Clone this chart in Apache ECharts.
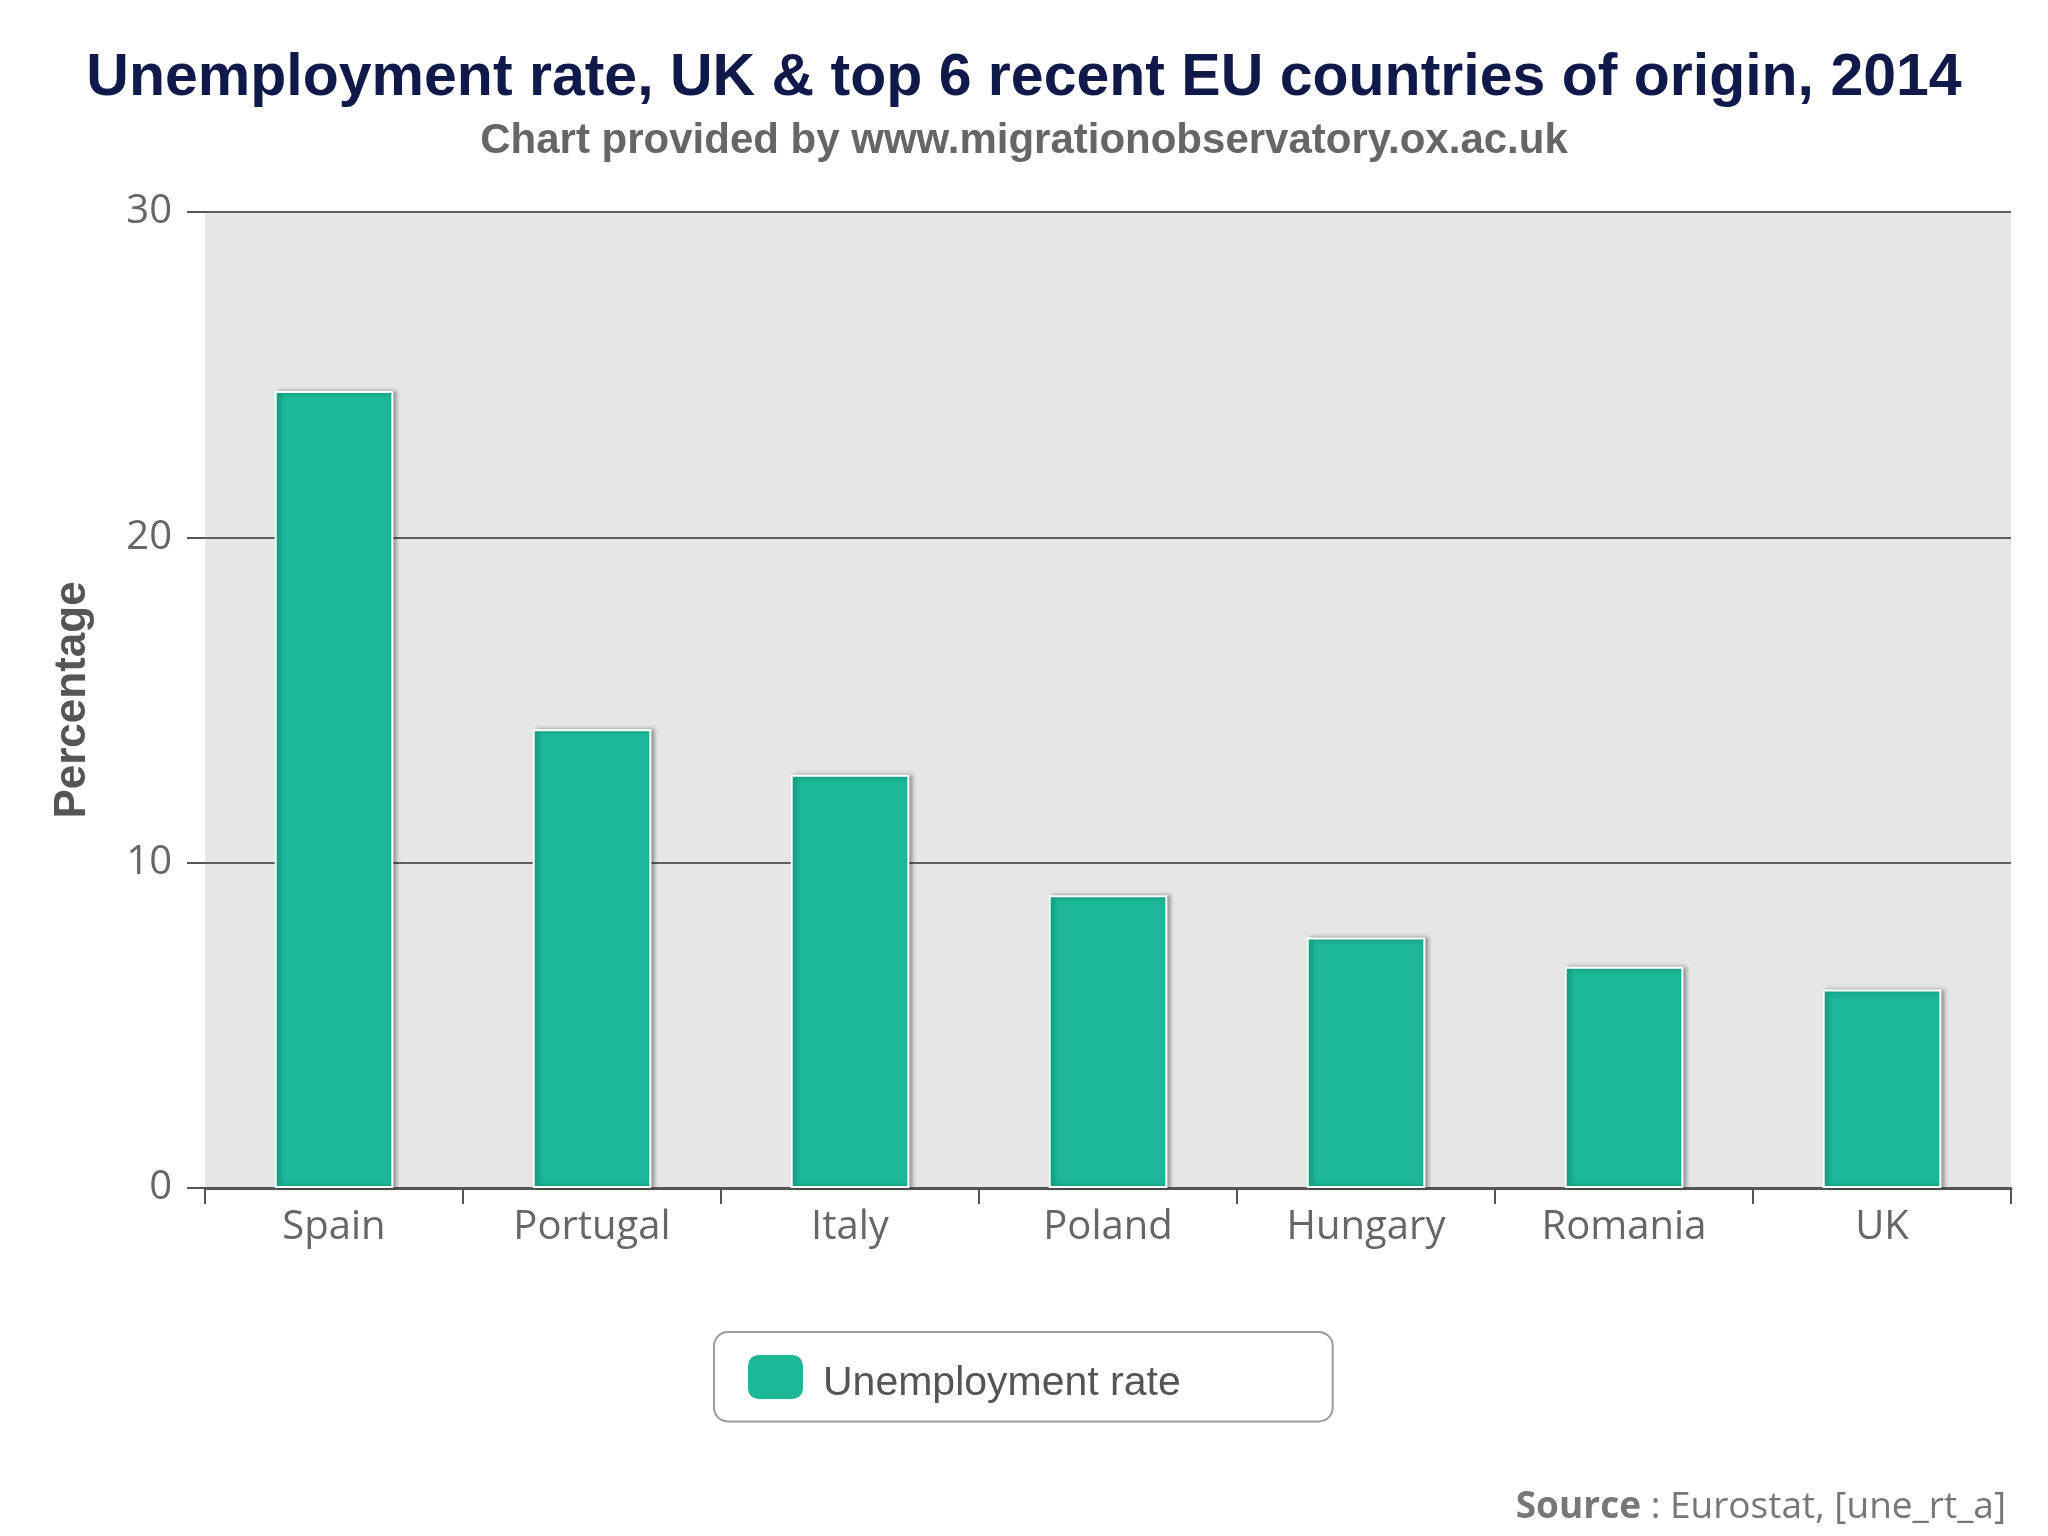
<!DOCTYPE html>
<html>
<head>
<meta charset="utf-8">
<script src="https://cdn.jsdelivr.net/npm/echarts@6/dist/echarts.min.js"></script>
<style>
html,body{margin:0;padding:0;background:#fff;}
#chart{width:2048px;height:1536px;}
</style>
</head>
<body>
<div id="chart"></div>
<script>
const categories = ['Spain', 'Portugal', 'Italy', 'Poland', 'Hungary', 'Romania', 'UK'];
const unemploymentRate = [24.5, 14.1, 12.7, 9.0, 7.7, 6.8, 6.1];
const yTicks = [0, 10, 20, 30];
const seriesName = 'Unemployment rate';
const titleText = 'Unemployment rate, UK & top 6 recent EU countries of origin, 2014';
const subtitleText = 'Chart provided by www.migrationobservatory.ox.ac.uk';
const yAxisName = 'Percentage';

const chart = echarts.init(document.getElementById('chart'), null, {renderer: 'canvas'});
const option = {
  backgroundColor: '#ffffff',
  animation: false,
  title: {
    text: titleText,
    subtext: subtitleText,
    left: 'center',
    top: 44,
    itemGap: 12,
    textStyle: {fontFamily: 'Liberation Sans', fontWeight: 'bold', fontSize: 59, color: '#0f1a4a'},
    subtextStyle: {fontFamily: 'Liberation Sans', fontWeight: 'bold', fontSize: 42, color: '#666666'}
  },
  grid: {
    left: 205, right: 37, top: 212, bottom: 348,
    show: true, backgroundColor: '#e6e6e6', borderWidth: 0
  },
  legend: {
    data: [seriesName],
    left: 714, top: 1332,
    padding: [21, 152, 17, 32],
    borderColor: '#9a9a9a', borderWidth: 2, borderRadius: 14,
    itemWidth: 57, itemHeight: 46,
    icon: 'roundRect',
    formatter: '{a|{name}}',
    textStyle: {
      fontFamily: 'Liberation Sans', fontSize: 41, color: '#555555', padding: [0, 0, 0, 14],
      rich: {a: {fontFamily: 'Liberation Sans', fontSize: 41, color: '#555555', padding: [14, 0, 0, 0]}}
    }
  },
  xAxis: {
    type: 'category',
    data: categories,
    axisLine: {show: true, lineStyle: {color: '#555555', width: 3}},
    axisTick: {show: true, alignWithLabel: false, length: 16, lineStyle: {color: '#555555', width: 2}},
    axisLabel: {fontFamily: 'Open Sans', fontSize: 40, color: '#666666', margin: 20}
  },
  yAxis: {
    type: 'value',
    min: 0, max: 30, interval: 10,
    name: yAxisName,
    nameLocation: 'middle',
    nameGap: 110,
    nameRotate: 90,
    nameTextStyle: {fontFamily: 'Liberation Sans', fontWeight: 'bold', fontSize: 44, color: '#555555'},
    axisLine: {show: false},
    axisTick: {show: true, length: 18, lineStyle: {color: '#555555', width: 2}},
    splitLine: {show: true, lineStyle: {color: '#5f5f5f', width: 2}},
    axisLabel: {
      fontFamily: 'Open Sans', fontSize: 40, color: '#666666', margin: 33,
      formatter: function (v) { return yTicks.indexOf(v) >= 0 ? String(v) : ''; }
    }
  },
  series: [{
    name: seriesName,
    type: 'bar',
    data: unemploymentRate,
    barWidth: '46%',
    itemStyle: {
      color: '#1bb797',
      borderColor: '#ffffff', borderWidth: 2,
      shadowColor: 'rgba(0,0,0,0.35)', shadowBlur: 4, shadowOffsetX: 3, shadowOffsetY: 0
    }
  }],
  graphic: [{
    type: 'text',
    right: 42, top: 1489,
    style: {
      rich: {
        b: {fontFamily: 'Open Sans', fontWeight: 'bold', fontSize: 37, fill: '#777777'},
        n: {fontFamily: 'Open Sans', fontSize: 37, fill: '#777777'}
      },
      text: '{b|Source}{n| : Eurostat, [une_rt_a]}'
    }
  }]
};
chart.setOption(option);
</script>
</body>
</html>
